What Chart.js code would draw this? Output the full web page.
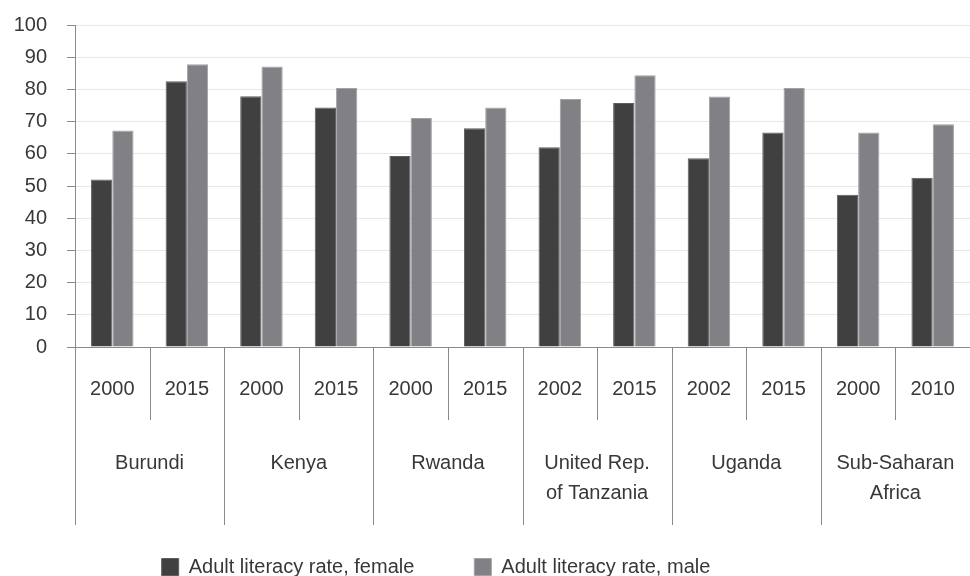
<!DOCTYPE html>
<html>
<head>
<meta charset="utf-8">
<script src="https://cdn.jsdelivr.net/npm/chart.js@4/dist/chart.umd.min.js"></script>
<style>
  body { margin: 0; background: #fff; }
  #wrap { width: 970px; height: 576px; position: relative; }
</style>
</head>
<body>
<div id="wrap"><canvas id="literacyChart"></canvas></div>
<script>
const years = ['2000', '2015', '2000', '2015', '2000', '2015', '2002', '2015', '2002', '2015', '2000', '2010'];
const countries = [
    ['Burundi'],
    ['Kenya'],
    ['Rwanda'],
    ['United Rep.', 'of Tanzania'],
    ['Uganda'],
    ['Sub-Saharan', 'Africa'],
];
const female = [52.0, 82.5, 77.9, 74.4, 59.3, 67.9, 62.0, 75.8, 58.6, 66.6, 47.3, 52.6];
const male = [67.2, 87.8, 87.1, 80.4, 71.1, 74.4, 77.0, 84.4, 77.8, 80.4, 66.6, 69.2];

const FONT = '"Liberation Sans", Arial, sans-serif';
const TEXT = '#383838';
const LINE = '#8a8a8a';

// two-level category labels with separators under the x axis
const groupAxis = {
    id: 'groupAxis',
    afterLayout(chart) {
        // legend sits lower and a bit left of centre in the original
        const lg = chart.legend;
        const dx = 436 - (lg.left + lg.right) / 2;
        const dy = 566 - (lg.top + 69);
        lg.left += dx; lg.right += dx;
        lg.top += dy; lg.bottom += dy;
    },
    afterDraw(chart) {
        const ctx = chart.ctx;
        const x = chart.scales.x;
        const base = chart.chartArea.bottom;
        const w = x.getPixelForValue(1) - x.getPixelForValue(0);
        ctx.save();
        ctx.strokeStyle = LINE;
        ctx.lineWidth = 1;
        for (let i = 0; i < years.length; i++) {
            const b = Math.round(x.getPixelForValue(i) - w / 2) + 0.5;
            ctx.beginPath();
            ctx.moveTo(b, base);
            ctx.lineTo(b, i % 2 === 0 ? base + 178 : base + 73);
            ctx.stroke();
        }
        ctx.fillStyle = TEXT;
        ctx.font = '20px ' + FONT;
        ctx.textAlign = 'center';
        ctx.textBaseline = 'middle';
        years.forEach((y, i) => {
            ctx.fillText(y, x.getPixelForValue(i), base + 42);
        });
        countries.forEach((lines, g) => {
            const cx = (x.getPixelForValue(g * 2) + x.getPixelForValue(g * 2 + 1)) / 2;
            lines.forEach((t, k) => {
                ctx.fillText(t, cx, base + 116 + k * 30);
            });
        });
        ctx.restore();
    }
};

const data = {
    labels: years,
    datasets: [{
        label: 'Adult literacy rate, female',
        backgroundColor: '#404040',
        borderColor: '#5e5e5e',
        borderWidth: 1,
        data: female,
    }, {
        label: 'Adult literacy rate, male',
        backgroundColor: '#818185',
        borderColor: '#a2a2a5',
        borderWidth: 1,
        data: male,
    }]
};

const config = {
    type: 'bar',
    data: data,
    options: {
        responsive: true,
        maintainAspectRatio: false,
        animation: false,
        categoryPercentage: 0.57,
        barPercentage: 1.0,
        layout: { padding: 0 },
        plugins: {
            tooltip: { enabled: false },
            legend: {
                position: 'bottom',
                labels: {
                    boxWidth: 17,
                    boxHeight: 17,
                    padding: 60,
                    color: TEXT,
                    font: { family: FONT, size: 20 },
                }
            }
        },
        scales: {
            x: {
                ticks: { display: false },
                grid: { display: false },
                border: { display: true, color: LINE, width: 1 },
                afterFit(scale) {
                    scale.height = scale.chart.height - scale.chart.legend.height - 347;
                }
            },
            y: {
                min: 0,
                max: 100,
                ticks: {
                    stepSize: 10,
                    padding: 20,
                    color: TEXT,
                    font: { family: FONT, size: 20 },
                },
                grid: {
                    color: '#e8e8e8',
                    tickColor: LINE,
                    tickLength: 8,
                },
                border: { display: true, color: LINE, width: 1 },
                afterFit(scale) {
                    scale.width = 75;
                    scale.paddingTop = 25;
                    scale.paddingBottom = 0;
                }
            }
        }
    },
    plugins: [groupAxis]
};

const myChart = new Chart(
    document.getElementById('literacyChart'),
    config
);
</script>
</body>
</html>
